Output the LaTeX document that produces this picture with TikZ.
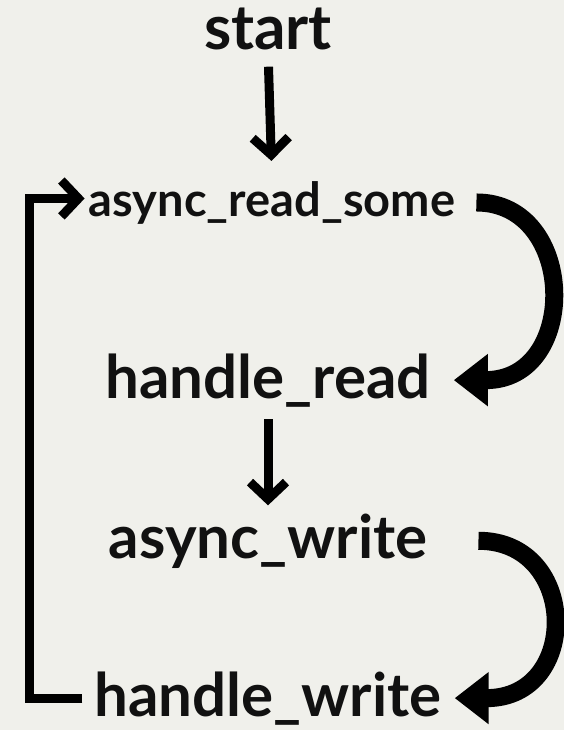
\documentclass[tikz,border=0pt]{standalone}
\usepackage{fontspec}
\setmainfont{Lato}
\usetikzlibrary{arrows.meta}
\definecolor{paper}{HTML}{F0F0EB}
\definecolor{ink}{HTML}{111111}
\begin{document}
\begin{tikzpicture}[x=1pt,y=-1pt,
  label/.style={inner sep=0pt,anchor=base,text=ink,font=\bfseries\fontsize{60}{62}\selectfont},
  thinarrow/.style={line width=9pt,-{Straight Barb[length=17pt,width=36pt]}},
  bigarrow/.style={line width=18pt,-{Triangle[length=34pt,width=50pt]}}]
  \useasboundingbox[fill=paper] (0,0) rectangle (564,730);
  \node[label,font=\bfseries\fontsize{62}{64}\selectfont] (start) at (268,50) {start};
  \node[label,font=\bfseries\fontsize{47}{49}\selectfont] (readsome) at (272,216) {async\_read\_some};
  \node[label] (handleread) at (268,398) {handle\_read};
  \node[label] (asyncwrite) at (268,558) {async\_write};
  \node[label] (handlewrite) at (268,716) {handle\_write};
  \draw [thinarrow, shorten <=16pt, shorten >=20pt] (start.south) -- (readsome.north);
  \draw [thinarrow, shorten <=12pt, shorten >=8pt] (handleread.south) -- (asyncwrite.north);
  \draw [thinarrow] ([xshift=-12pt]handlewrite.west) -- ((29,0 |- handlewrite.west) |- ([xshift=-4pt,yshift=4pt]readsome.west);
  \draw [bigarrow] ([xshift=21pt]readsome.east) .. controls +(101,0) and +(126,0) .. ([xshift=23pt]handleread.east);
  \draw [bigarrow] ([xshift=51pt]asyncwrite.east) .. controls +(101,0) and +(126,0) .. ([xshift=13pt]handlewrite.east);
\end{tikzpicture}
\end{document}
